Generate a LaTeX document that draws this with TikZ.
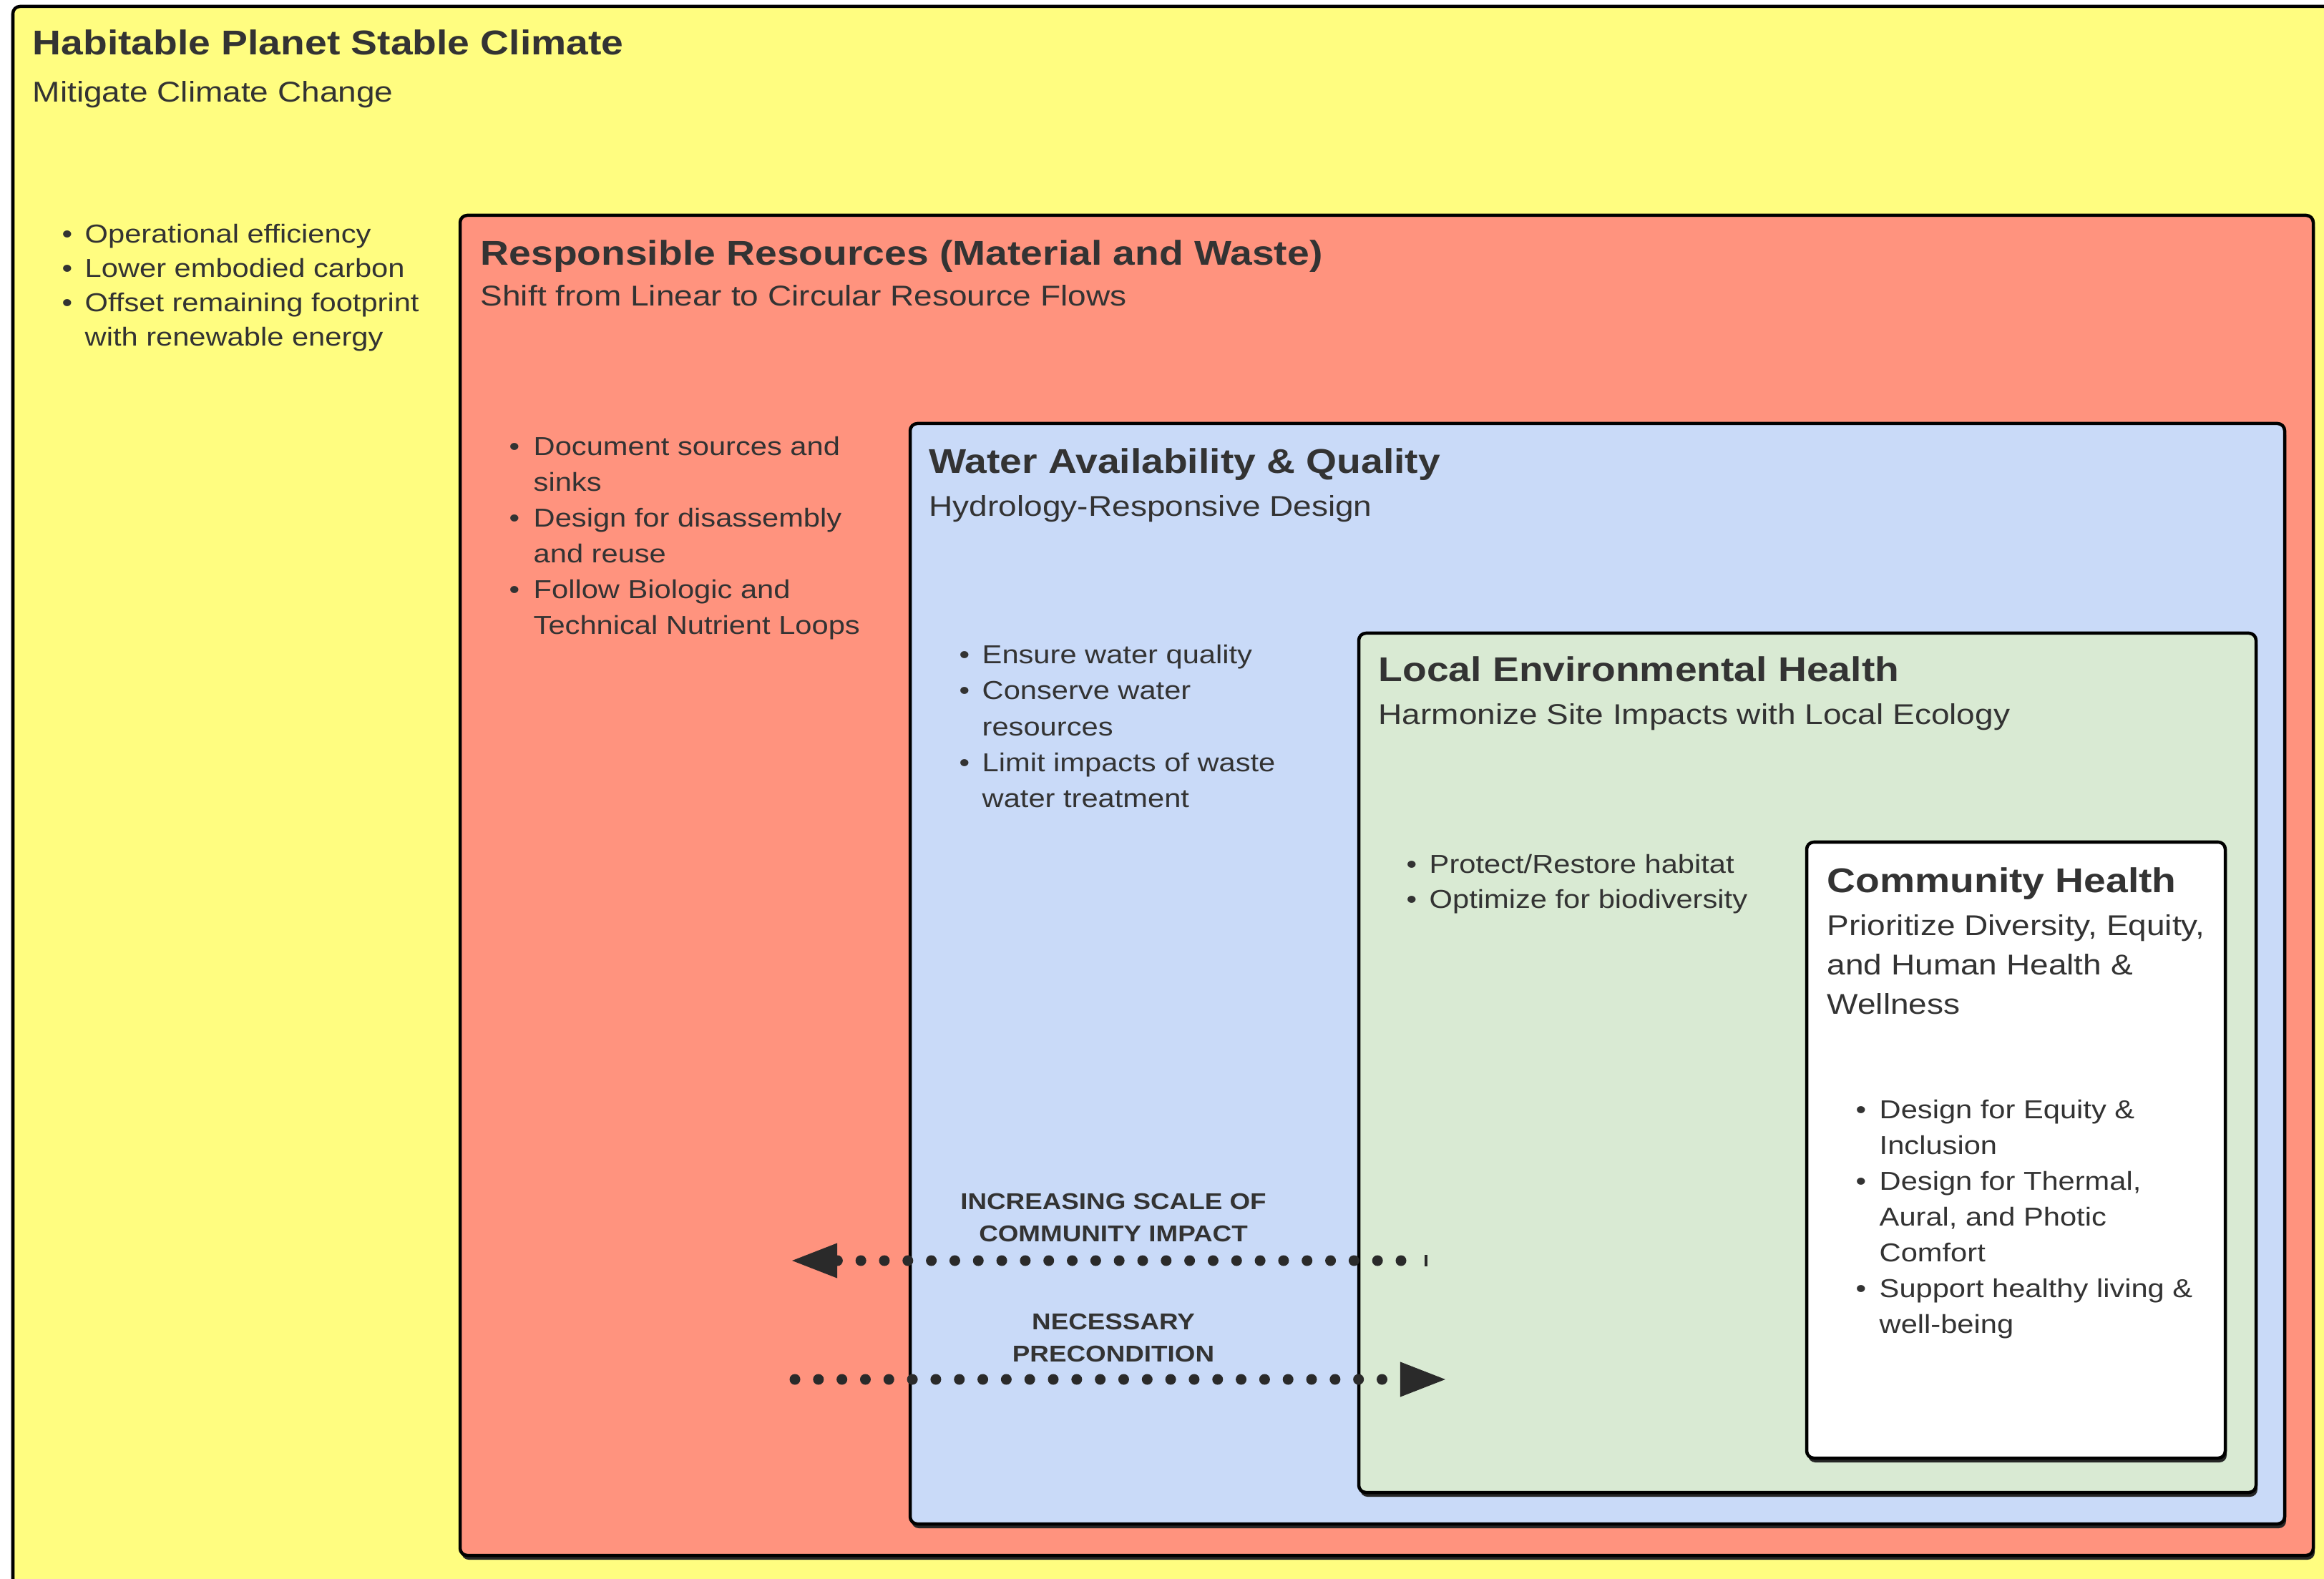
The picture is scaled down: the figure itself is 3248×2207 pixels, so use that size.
\documentclass[tikz,border=0pt]{standalone}
\usepackage{fontspec}
\setmainfont{Liberation Sans}[FakeStretch=1.15]
\usetikzlibrary{arrows.meta}
\definecolor{ycol}{HTML}{FFFD80}
\definecolor{rcol}{HTML}{FF937E}
\definecolor{bcol}{HTML}{C9DAF8}
\definecolor{gcol}{HTML}{D9EAD3}
\definecolor{tcol}{HTML}{333333}
\definecolor{acol}{HTML}{2A2A2A}
\newcommand{\ttlfnt}{\fontsize{13.66pt}{16pt}\selectfont\bfseries}
\newcommand{\subfnt}{\fontsize{11.38pt}{14pt}\selectfont}
\newcommand{\bulfnt}{\fontsize{10.3pt}{13pt}\selectfont}
\newcommand{\lblfnt}{\fontsize{9.1pt}{11pt}\selectfont\bfseries}
\newcommand{\mybox}[5]{%
  \fill[black!85, rounded corners=0.1cm] (#1+2,#2+6) rectangle (#3+2,#4+6);
  \filldraw[fill=#5, draw=black, line width=0.045cm, rounded corners=0.1cm] (#1,#2) rectangle (#3,#4);}
\begin{document}
\begin{tikzpicture}[x=0.01cm,y=-0.01cm,
  ttl/.style={anchor=base west, inner sep=0pt, font=\ttlfnt, text=tcol},
  sub/.style={anchor=base west, inner sep=0pt, font=\subfnt, text=tcol},
  blt/.style={anchor=base west, inner sep=0pt, font=\bulfnt, text=tcol},
  lbl/.style={anchor=base, inner sep=0pt, font=\lblfnt, text=tcol},
  dotarrow/.style={draw=acol, line width=0.15cm, line cap=round, dash pattern=on 0pt off 0.328cm,
    -{Triangle[length=0.66cm, width=0.44cm]}}]
\useasboundingbox (0,0) rectangle (3248,2207);
\clip (0,0) rectangle (3248,2207);
\fill[white] (0,0) rectangle (3248,2207);
% boxes
\mybox{18}{9}{3320}{2280}{ycol}
\mybox{643}{301}{3233}{2174}{rcol}
\mybox{1272}{592}{3193}{2130}{bcol}
\mybox{1899}{885}{3153}{2086}{gcol}
\mybox{2525}{1177}{3110}{2038}{white}
% yellow
\node[ttl] (yt) at (45,77) {Habitable Planet Stable Climate};
\node[sub] (ys) at (45,143) {Mitigate Climate Change};
\node[blt] (yb1) at (86,340) {•};
\node[blt] (yl1) at (118,340) {Operational efficiency};
\node[blt] (yb2) at (86,388) {•};
\node[blt] (yl2) at (118,388) {Lower embodied carbon};
\node[blt] (yb3) at (86,436) {•};
\node[blt] (yl3) at (118,436) {Offset remaining footprint};
\node[blt] (yl4) at (118,484) {with renewable energy};
% red
\node[ttl] (rt) at (671,371) {Responsible Resources (Material and Waste)};
\node[sub] (rs) at (671,428) {Shift from Linear to Circular Resource Flows};
\node[blt] (rb1) at (711,637) {•};
\node[blt] (rl1) at (745,637) {Document sources and};
\node[blt] (rl2) at (745,687) {sinks};
\node[blt] (rb2) at (711,737) {•};
\node[blt] (rl3) at (745,737) {Design for disassembly};
\node[blt] (rl4) at (745,787) {and reuse};
\node[blt] (rb3) at (711,837) {•};
\node[blt] (rl5) at (745,837) {Follow Biologic and};
\node[blt] (rl6) at (745,887) {Technical Nutrient Loops};
% blue
\node[ttl] (bt) at (1298,662) {Water Availability \& Quality};
\node[sub] (bs) at (1298,722) {Hydrology-Responsive Design};
\node[blt] (bb1) at (1340,928) {•};
\node[blt] (bl1) at (1372,928) {Ensure water quality};
\node[blt] (bb2) at (1340,978) {•};
\node[blt] (bl2) at (1372,978) {Conserve water};
\node[blt] (bl3) at (1372,1028) {resources};
\node[blt] (bb3) at (1340,1078) {•};
\node[blt] (bl4) at (1372,1078) {Limit impacts of waste};
\node[blt] (bl5) at (1372,1128) {water treatment};
% green
\node[ttl] (gt) at (1926,953) {Local Environmental Health};
\node[sub] (gs) at (1926,1013) {Harmonize Site Impacts with Local Ecology};
\node[blt] (gb1) at (1965,1220) {•};
\node[blt] (gl1) at (1997,1220) {Protect/Restore habitat};
\node[blt] (gb2) at (1965,1269) {•};
\node[blt] (gl2) at (1997,1269) {Optimize for biodiversity};
% white
\node[ttl] (wt) at (2553,1248) {Community Health};
\node[sub] (ws1) at (2553,1307) {Prioritize Diversity, Equity,};
\node[sub] (ws2) at (2553,1362) {and Human Health \&};
\node[sub] (ws3) at (2553,1417) {Wellness};
\node[blt] (wb1) at (2593,1563) {•};
\node[blt] (wl1) at (2626,1563) {Design for Equity \&};
\node[blt] (wl2) at (2626,1613) {Inclusion};
\node[blt] (wb2) at (2593,1663) {•};
\node[blt] (wl3) at (2626,1663) {Design for Thermal,};
\node[blt] (wl4) at (2626,1713) {Aural, and Photic};
\node[blt] (wl5) at (2626,1763) {Comfort};
\node[blt] (wb3) at (2593,1813) {•};
\node[blt] (wl6) at (2626,1813) {Support healthy living \&};
\node[blt] (wl7) at (2626,1863) {well-being};
% arrow labels
\node[lbl] (al1) at (1556,1690) {INCREASING SCALE OF};
\node[lbl] (al2) at (1556,1735) {COMMUNITY IMPACT};
\node[lbl] (al3) at (1556,1858) {NECESSARY};
\node[lbl] (al4) at (1556,1903) {PRECONDITION};
% arrows
\coordinate (a1s) at (1958,1762);
\coordinate (a1e) at (1104,1762);
\coordinate (t1) at (1993,1754);
\coordinate (t2) at (1993,1770);
\draw[acol, line width=0.045cm] (t1) -- (t2);
\draw[dotarrow] (a1s) -- (a1e);
\coordinate (a2s) at (1111,1928);
\coordinate (a2e) at (2023,1928);
\draw[dotarrow] (a2s) -- (a2e);
\end{tikzpicture}
\end{document}
